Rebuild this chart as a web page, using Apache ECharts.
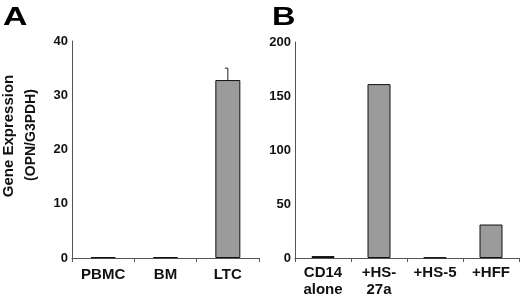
<!DOCTYPE html>
<html>
<head>
<meta charset="utf-8">
<script src="https://cdn.jsdelivr.net/npm/echarts@6/dist/echarts.min.js"></script>
<style>
  html, body { margin: 0; padding: 0; background: #fff; }
  #chart { width: 520px; height: 298px; }
</style>
</head>
<body>
<div id="chart"></div>
<script>
// panel A
var catsA = ['PBMC', 'BM', 'LTC'];
var valsA = [0.15, 0.15, 32.8];
var errHighA = [null, null, 35.0];
var ticksA = [0, 10, 20, 30, 40];

// panel B
var catsB = ['CD14\nalone', '+HS-\n27a', '+HS-5', '+HFF'];
var valsB = [1.8, 161, 0.5, 31];
var ticksB = [0, 50, 100, 150, 200];

var font = '"Liberation Sans", Arial, sans-serif';
var axisCol = '#555';

function catAxis(idx, cats, margin) {
  return {
    type: 'category', gridIndex: idx, data: cats,
    axisLine: { lineStyle: { color: axisCol, width: 1 } },
    axisTick: { show: true, length: 4, lineStyle: { color: axisCol } },
    axisLabel: { color: '#111', fontFamily: font, fontWeight: 'bold', fontSize: 15, margin: margin, lineHeight: 17, interval: 0 }
  };
}
function valAxis(idx, ticks) {
  return {
    type: 'value', gridIndex: idx, min: ticks[0], max: ticks[ticks.length - 1],
    interval: ticks[1] - ticks[0],
    splitLine: { show: false },
    axisLine: { show: true, lineStyle: { color: axisCol, width: 1 } },
    axisTick: { show: false },
    axisLabel: { color: '#111', fontFamily: font, fontWeight: 'bold', fontSize: 13, margin: 4 }
  };
}

var barStyle = { color: '#9b9b9b', borderColor: '#111', borderWidth: 1 };

var chart = echarts.init(document.getElementById('chart'));
chart.setOption({
  animation: false,
  backgroundColor: '#fff',
  grid: [
    { left: 72, top: 41, width: 187, bottom: 40 },
    { left: 295, top: 42, width: 224, bottom: 36 }
  ],
  xAxis: [catAxis(0, catsA, 8), catAxis(1, catsB, 6)],
  yAxis: [valAxis(0, ticksA), valAxis(1, ticksB)],
  graphic: [
    { type: 'text', x: 3, y: 5, scaleX: 1.3, style: { text: 'A', font: 'bold 26px ' + font, fill: '#000' } },
    { type: 'text', x: 272, y: 5, scaleX: 1.25, style: { text: 'B', font: 'bold 26px ' + font, fill: '#000' } },
    { type: 'text', x: 9, y: 136, rotation: Math.PI / 2,
      style: { text: 'Gene Expression', font: 'bold 15px ' + font, fill: '#111', align: 'center', verticalAlign: 'middle' } },
    { type: 'text', x: 31, y: 135, rotation: Math.PI / 2,
      style: { text: '(OPN/G3PDH)', font: 'bold 14px ' + font, fill: '#111', align: 'center', verticalAlign: 'middle' } }
  ],
  series: [
    {
      type: 'bar', xAxisIndex: 0, yAxisIndex: 0, barWidth: 25,
      itemStyle: barStyle, data: valsA
    },
    {
      type: 'custom', xAxisIndex: 0, yAxisIndex: 0, z: 1,
      data: errHighA.map(function (h, i) { return h == null ? null : [i, valsA[i], h]; })
        .filter(function (d) { return d; }),
      renderItem: function (params, api) {
        var lo = api.coord([api.value(0), api.value(1)]);
        var hi = api.coord([api.value(0), api.value(2)]);
        return {
          type: 'group',
          children: [
            { type: 'line', shape: { x1: hi[0], y1: lo[1], x2: hi[0], y2: hi[1] }, style: { stroke: '#222', lineWidth: 1 } },
            { type: 'line', shape: { x1: hi[0] - 3, y1: hi[1], x2: hi[0], y2: hi[1] }, style: { stroke: '#222', lineWidth: 1 } }
          ]
        };
      }
    },
    {
      type: 'bar', xAxisIndex: 1, yAxisIndex: 1, barWidth: 23,
      itemStyle: barStyle,
      data: valsB.map(function (v, i) {
        return i === 0 ? { value: v, itemStyle: { color: '#fff' } } : v;
      })
    }
  ]
});
</script>
</body>
</html>
